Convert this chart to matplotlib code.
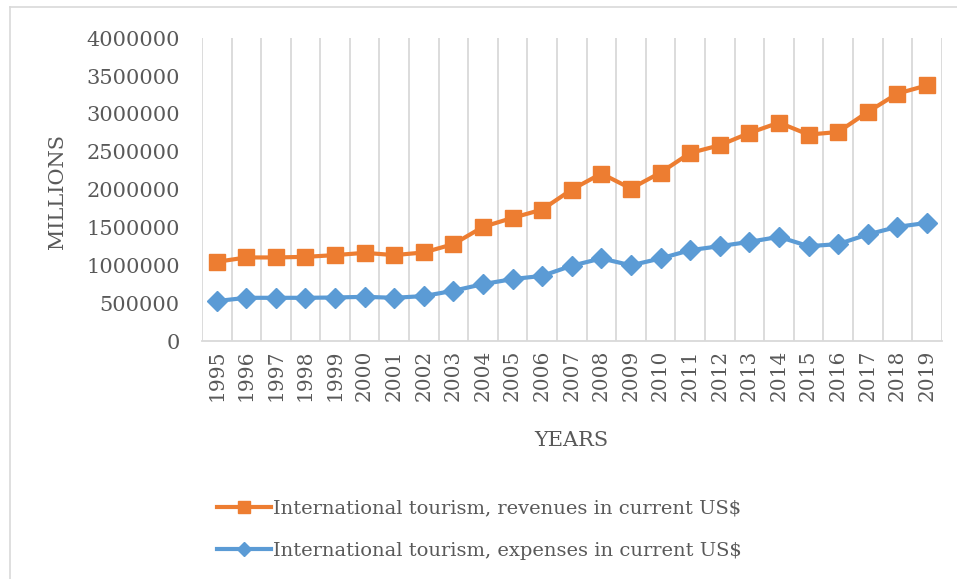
import matplotlib.pyplot as plt
from matplotlib.lines import Line2D

years = [str(y) for y in range(1995, 2020)]
revenues = [1046000, 1104000, 1104000, 1112000, 1135000, 1165000, 1135000, 1170000,
            1280000, 1508000, 1627000, 1737000, 2001000, 2212000, 2014000, 2225000,
            2484000, 2586000, 2748000, 2885000, 2727000, 2761000, 3025000, 3268000, 3377000]
expenses = [528000, 571000, 571000, 571000, 575000, 584000, 571000, 594000,
            664000, 752000, 818000, 861000, 995000, 1091000, 1000000, 1091000,
            1200000, 1253000, 1310000, 1376000, 1253000, 1280000, 1408000, 1508000, 1561000]

orange = "#ED7D31"
blue = "#5B9BD5"
txt = "#595959"
grid = "#D9D9D9"
font = "DejaVu Serif"

fig = plt.figure(figsize=(9.57, 5.79), dpi=100)
ax = fig.add_axes([0.211, 0.411, 0.773, 0.523])

x = list(range(len(years)))
ax.plot(x, revenues, color=orange, lw=3, marker="s", ms=11, label="International tourism, revenues in current US$")
ax.plot(x, expenses, color=blue, lw=3, marker="D", ms=10, label="International tourism, expenses in current US$")

ax.set_xlim(-0.5, len(years) - 0.5)
ax.set_ylim(0, 4000000)
ax.set_yticks(range(0, 4000001, 500000))
ax.set_yticklabels([str(v) for v in range(0, 4000001, 500000)])
ax.set_xticks(x)
ax.set_xticklabels(years, rotation=90)
ax.set_xticks([i - 0.5 for i in range(len(years) + 1)], minor=True)
ax.grid(True, which="minor", axis="x", color=grid, lw=1.3)
ax.tick_params(which="both", length=0)
ax.tick_params(axis="y", pad=16)
ax.tick_params(axis="x", pad=6)
for lab in ax.get_yticklabels():
    lab.set_fontfamily(font)
    lab.set_fontsize(15)
    lab.set_color(txt)
for lab in ax.get_xticklabels():
    lab.set_fontfamily(font)
    lab.set_fontsize(14.5)
    lab.set_color(txt)
for s in ["top", "right", "left"]:
    ax.spines[s].set_visible(False)
ax.spines["bottom"].set_color(grid)
ax.spines["bottom"].set_linewidth(1.3)

fig.text(0.060, 0.670, "MILLIONS", rotation=90, ha="center", va="center",
         fontfamily=font, fontsize=15, color=txt)
fig.text(0.597, 0.240, "YEARS", ha="center", va="center",
         fontfamily=font, fontsize=15, color=txt)

leg = fig.legend(loc="upper left", bbox_to_anchor=(0.208, 0.1675), frameon=False,
                 handlelength=2.8, handletextpad=0.1, labelspacing=1.25, markerscale=0.75,
                 prop={"family": font, "size": 14})
for t in leg.get_texts():
    t.set_color(txt)

# chart border (left and top edges visible)
fig.add_artist(Line2D([0.010, 0.010], [0.0, 0.988], color=grid, lw=1.2))
fig.add_artist(Line2D([0.010, 1.0], [0.988, 0.988], color=grid, lw=1.2))

fig.savefig("out.png", dpi=100)
